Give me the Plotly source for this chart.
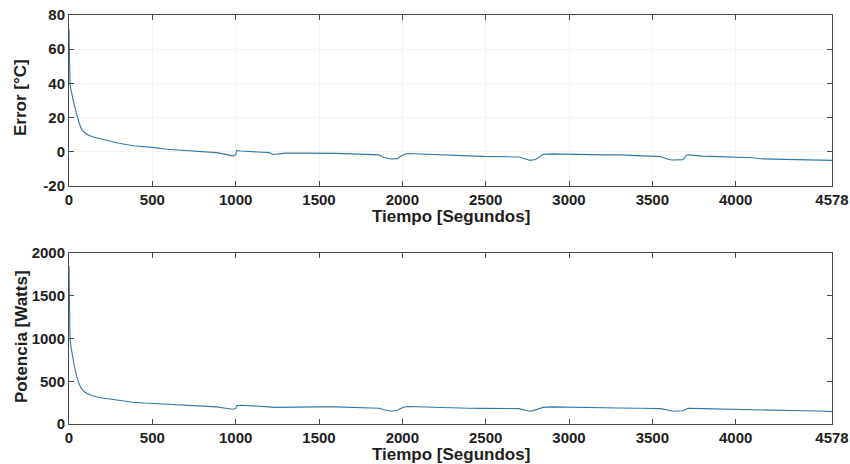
import plotly.graph_objects as go

# Sample times (s)
tiempo = [0, 3, 6, 12, 20, 30, 46, 60, 76, 90, 106, 140, 180, 246, 300, 384, 450, 500,
          586, 650, 700, 780, 886, 940, 984, 1000, 1006, 1030, 1100, 1186, 1200, 1226,
          1300, 1386, 1500, 1600, 1700, 1800, 1860, 1885, 1930, 1970, 2000, 2028, 2100,
          2200, 2300, 2400, 2485, 2600, 2700, 2740, 2766, 2800, 2845, 2900, 3000, 3100,
          3200, 3300, 3426, 3550, 3600, 3620, 3684, 3700, 3714, 3800, 3900, 4025, 4100,
          4150, 4223, 4300, 4400, 4500, 4578]

# Temperature error (°C)
error_c = [72, 55, 40, 36, 32, 28, 22, 17, 13, 11.5, 10.3, 8.8, 7.8, 6.2, 5, 3.5, 3, 2.6,
           1.5, 1, 0.7, 0.4, -0.5, -1.5, -2.5, -1.5, 0.8, 0.5, 0.2, -0.3, -0.5, -1.6,
           -0.8, -0.8, -0.7, -0.9, -1.2, -1.5, -1.8, -3.2, -4.2, -4.0, -2.0, -1.0, -1.2,
           -1.7, -2.0, -2.4, -2.7, -2.8, -3.0, -4.2, -5.0, -4.5, -1.5, -1.2, -1.5, -1.7,
           -1.8, -1.8, -2.2, -2.8, -4.5, -4.8, -4.6, -2.5, -1.8, -2.5, -2.8, -3.2, -3.5,
           -4.1, -4.3, -4.3, -4.5, -4.7, -5.0]

# Heater power (W)
potencia_w = [1850, 1400, 1000, 900, 800, 700, 560, 470, 410, 380, 360, 330, 310, 290, 275,
              255, 245, 240, 228, 222, 218, 210, 200, 185, 172, 180, 215, 220, 215, 205,
              200, 195, 198, 197, 200, 200, 195, 192, 185, 170, 150, 160, 190, 205, 200,
              195, 190, 185, 183, 185, 180, 160, 150, 165, 195, 200, 195, 192, 190, 188,
              185, 180, 160, 150, 155, 175, 185, 180, 175, 168, 165, 160, 158, 160, 155,
              152, 145]

x_ticks = [0, 500, 1000, 1500, 2000, 2500, 3000, 3500, 4000, 4578]
err_ticks = [-20, 0, 20, 40, 60, 80]
pot_ticks = [0, 500, 1000, 1500, 2000]

W, H = 850, 464
FONT = "Liberation Sans, Arial, sans-serif"
LINE_COLOR = "#3478a8"
AXIS_COLOR = "#4a4a4a"

fig = go.Figure()
fig.add_trace(go.Scatter(x=tiempo, y=error_c, mode="lines",
                         line=dict(color=LINE_COLOR, width=1.1),
                         xaxis="x", yaxis="y", showlegend=False))
fig.add_trace(go.Scatter(x=tiempo, y=potencia_w, mode="lines",
                         line=dict(color=LINE_COLOR, width=1.1),
                         xaxis="x2", yaxis="y2", showlegend=False))

xdom = [69 / W, 832 / W]
top_dom = [(H - 186) / H, (H - 15) / H]
bot_dom = [(H - 424) / H, (H - 253) / H]

tickfont = dict(family=FONT, size=15, color="#1e1e1e", weight="bold")
common = dict(showline=True, linecolor=AXIS_COLOR, linewidth=1, mirror="ticks",
              ticks="inside", ticklen=5, tickcolor=AXIS_COLOR, tickwidth=1,
              zeroline=False, tickfont=tickfont, automargin=False)

fig.update_layout(
    width=W, height=H,
    margin=dict(l=0, r=0, t=0, b=0),
    paper_bgcolor="white", plot_bgcolor="white",
    xaxis=dict(domain=xdom, anchor="y", range=[0, 4578], tickvals=x_ticks,
               ticktext=[str(v) for v in x_ticks],
               showgrid=True, gridcolor="#f4f4f4", **common),
    yaxis=dict(domain=top_dom, anchor="x", range=[-20, 80], tickvals=err_ticks,
               ticktext=[str(v) for v in err_ticks],
               showgrid=True, gridcolor="#f4f4f4", **common),
    xaxis2=dict(domain=xdom, anchor="y2", range=[0, 4578], tickvals=x_ticks,
                ticktext=[str(v) for v in x_ticks], showgrid=False, **common),
    yaxis2=dict(domain=bot_dom, anchor="x2", range=[0, 2000], tickvals=pot_ticks,
                ticktext=[str(v) for v in pot_ticks], showgrid=False, **common),
)

title_font = dict(family=FONT, size=17, color="#1e1e1e", weight="bold")
cx = (xdom[0] + xdom[1]) / 2
fig.add_annotation(text="Tiempo [Segundos]", x=cx, y=(H - 216) / H, xref="paper", yref="paper",
                   showarrow=False, font=title_font, xanchor="center", yanchor="middle")
fig.add_annotation(text="Tiempo [Segundos]", x=cx, y=(H - 454) / H, xref="paper", yref="paper",
                   showarrow=False, font=title_font, xanchor="center", yanchor="middle")
fig.add_annotation(text="Error [°C]", x=21 / W, y=(H - 98) / H, xref="paper", yref="paper",
                   showarrow=False, font=title_font, textangle=-90,
                   xanchor="center", yanchor="middle")
fig.add_annotation(text="Potencia [Watts]", x=21 / W, y=(H - 337) / H, xref="paper", yref="paper",
                   showarrow=False, font=title_font, textangle=-90,
                   xanchor="center", yanchor="middle")

fig.write_html("out.html")
